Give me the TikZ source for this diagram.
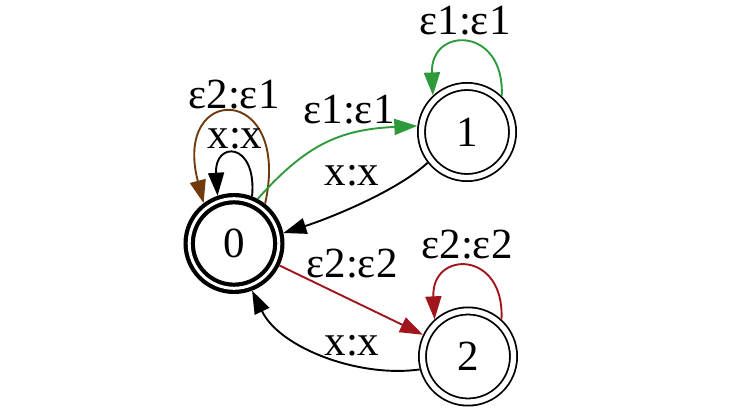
\documentclass[tikz,border=0pt]{standalone}
\usepackage{fontspec}
\setmainfont{Liberation Serif}
\usetikzlibrary{arrows.meta}
\definecolor{ebrown}{RGB}{112,58,12}
\definecolor{egreen}{RGB}{46,154,58}
\definecolor{ered}{RGB}{160,22,28}
\begin{document}
\begin{tikzpicture}[x=1pt,y=1pt,
  lbl/.style={font=\fontsize{43}{50}\selectfont, anchor=base, inner sep=0pt},
  acc/.style={circle, draw, line width=1.8pt, double, double distance=5.3pt,
    minimum size=91.1pt, inner sep=0pt, outer sep=4.45pt, font=\fontsize{43}{50}\selectfont},
  initstate/.style={acc, line width=4.2pt, double distance=3pt,
    minimum size=89.6pt, outer sep=5.7pt},
  conn/.style={line width=1.9pt, -{Triangle[length=23pt,width=16pt]}}
]
\useasboundingbox (0,0) rectangle (731,-412);

\node[initstate] (n0) at (234,-243.5) {0};
\node[acc] (n1) at (467,-132) {1};
\node[acc] (n2) at (468,-356.5) {2};

% self loops on 0
\draw[conn,ebrown] (n0.52) .. controls (292,-82.5) and (172,-82.5) .. (n0.127);
\draw[conn] (n0.69) .. controls (257,-141) and (214,-141) .. (n0.109);
% 0 -> 1
\draw[conn,egreen] (n0.62) .. controls (305,-146) and (338,-129.5) .. (n1.173);
% loop on 1
\draw[conn,egreen] (n1.46) .. controls (505,-26) and (430,-26) .. (n1.133);
% 1 -> 0
\draw[conn] (n1.218) .. controls (397,-191) and (330.6,-217.9) .. (n0.12);
% 0 -> 2
\draw[conn,ered] (n0) -- (n2);
% loop on 2
\draw[conn,ered] (n2.48) .. controls (505,-250) and (431,-250) .. (n2.132);
% 2 -> 0
\draw[conn] (n2.195) .. controls (360,-378) and (280,-348.5) .. (n0.291);

\node[lbl] (l0b) at (234,-108) {ε2:ε1};
\node[lbl] (l0x) at (235,-148) {x:x};
\node[lbl] (l01) at (349,-123) {ε1:ε1};
\node[lbl] (l11) at (465,-35) {ε1:ε1};
\node[lbl] (l10) at (352,-185) {x:x};
\node[lbl] (l02) at (352,-277) {ε2:ε2};
\node[lbl] (l22) at (467,-258) {ε2:ε2};
\node[lbl] (l20) at (352,-355) {x:x};
\end{tikzpicture}
\end{document}
